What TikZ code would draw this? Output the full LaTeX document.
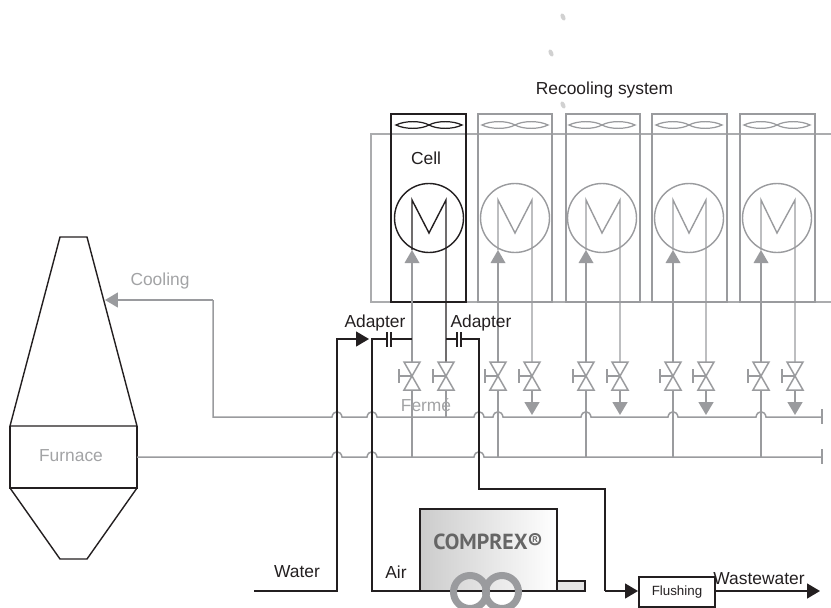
\documentclass[tikz,border=0pt]{standalone}
\usepackage{fontspec}
\setmainfont{Liberation Sans}
\newfontfamily\logofont{PT Sans}
\usepackage{xcolor}
\usetikzlibrary{arrows.meta}
\definecolor{pipegray}{HTML}{9A9B9E}
\definecolor{framegray}{HTML}{ABACAE}
\definecolor{labelgray}{HTML}{A2A3A5}
\definecolor{inkblack}{HTML}{231F20}
\tikzset{
  pipe/.style={line width=0.85pt,draw=pipegray},
  blackpipe/.style={line width=0.8pt,draw=inkblack},
  graytip/.style={-{Triangle[length=0.26cm,width=0.3cm]},pipe},
  blacktip/.style={-{Triangle[length=0.26cm,width=0.3cm]},blackpipe},
  lbl/.style={font=\fontsize{9.9}{12}\selectfont,text=inkblack,inner sep=0pt},
  graylbl/.style={lbl,text=labelgray},
  ringnode/.style={circle,draw=pipegray,line width=4pt,minimum size=0.66cm,inner sep=0pt},
}
\begin{document}
\begin{tikzpicture}[x=0.02cm,y=-0.02cm]
\useasboundingbox (0,0) rectangle (831,608);
\clip (0,0) rectangle (831,608);
% stray dots
\foreach \dx/\dy/\n in {563/17/a,551/53/b,563/105/c}
  \fill[black!18,rotate around={25:(\dx,\dy)}] (\dx,\dy) coordinate (dot\n) ellipse (2.2 and 3.8);
% recooling frame
\draw[framegray,line width=0.7pt] (840,134) -- (371,134) -- (371,302) -- (840,302);
% furnace
\coordinate (topL) at (60,237);
\coordinate (topR) at (87,237);
\coordinate (furnL) at (10,426);
\coordinate (furnR) at (137,426);
\coordinate (furnL2) at (10,488);
\coordinate (furnR2) at (137,488);
\coordinate (botL) at (60,559);
\coordinate (botR) at (87,559);
\draw[blackpipe] (topL) -- (topR) -- (furnR) -- (furnL) -- cycle;
\draw[blackpipe] (furnL) -- (furnL2) -- (furnR2) -- (furnR);
\draw[blackpipe] (furnL2) -- (botL) -- (botR) -- (furnR2);
% headers
\coordinate (coolTip) at (105,300);
\coordinate (coolCorner) at (213,300);
\coordinate (coolLow) at (213,417);
\coordinate (end1) at (822,417);
\coordinate (end2) at (822,457);
\coordinate (furnOut) at (137,457);
\draw[graytip] (coolCorner) -- (coolTip);
\draw[pipe] (coolCorner) -- (coolLow)
  \foreach \h in {337,372,479,498,586,673,761}{ -- (\h-5,417) .. controls (\h-4,410) and (\h+4,410) .. (\h+5,417)} -- (end1);
\draw[pipe] (furnOut)
  \foreach \h in {337,372,479}{ -- (\h-5,457) .. controls (\h-4,450) and (\h+4,450) .. (\h+5,457)} -- (end2);
\draw[pipe] (822,409) -- (822,424);
\draw[pipe] (822,449) -- (822,464);
% cells
\foreach \i/\l/\r/\cx/\cc/\a/\b in {%
  1/391/466/429/inkblack/412/446,
  2/478/552/515/pipegray/498/532,
  3/566/640/602/pipegray/586/620,
  4/652/727/689/pipegray/673/706,
  5/740/815/777/pipegray/761/795}{
  \draw[\cc,line width=0.9pt] (\l,114) rectangle (\r,302);
  \draw[\cc,line width=0.7pt] (\cx,125) .. controls (\cx-8,120.5) and (\cx-24,120.5) .. (\cx-33,125)
     .. controls (\cx-24,129.5) and (\cx-8,129.5) .. (\cx,125)
     .. controls (\cx+8,120.5) and (\cx+24,120.5) .. (\cx+33,125)
     .. controls (\cx+24,129.5) and (\cx+8,129.5) .. (\cx,125);
  \node[circle,draw=\cc,line width=0.8pt,minimum size=1.38cm,inner sep=0pt] (coil\i) at (\cx,218) {};
  \coordinate (inTop\i) at (\a,200);
  \coordinate (inTip\i) at (\a,250);
  \coordinate (outTop\i) at (\b,200);
  \coordinate (mid\i) at (\cx,233);
  \coordinate (inV\i) at (\a,376);
  \coordinate (outV\i) at (\b,376);
  % pipes up to the coil
  \draw[\cc,line width=0.8pt] (inTip\i) -- (inTop\i) -- (mid\i) -- (outTop\i) -- (\b,362);
  \draw[pipe] (\a,362) -- (\a,263);
  \fill[pipegray] (\a,250) -- (\a+7.5,263) -- (\a-7.5,263) -- cycle;
  % lines below the valves
  \draw[pipe] (\a,390) -- (\a,457);
  % valves
  \foreach \v in {\a,\b}{
    \draw[pipe] (\v-8,362) -- (\v+8,362) -- (\v-8,390) -- (\v+8,390) -- cycle;
    \draw[pipe] (\v,376) -- (\v-13,376);
    \draw[pipe] (\v-13,369) -- (\v-13,383);
  }
}
% return lines
\draw[pipe] (outV1) ++(0,14) -- (446,417);
\foreach \b in {532,620,706,795}
  \draw[graytip] (\b,390) -- (\b,415);
% water, air, adapters
\coordinate (waterIn) at (254,591);
\coordinate (waterUp) at (337,591);
\coordinate (waterTop) at (337,339);
\coordinate (waterTip) at (369,339);
\draw[blacktip] (waterIn) -- (waterUp) -- (waterTop) -- (waterTip);
\coordinate (airBox) at (420,591);
\coordinate (airLow) at (372,591);
\coordinate (airTop) at (372,339);
\coordinate (capA) at (387,339);
\coordinate (capB) at (391,339);
\coordinate (capC) at (457,339);
\coordinate (capD) at (461,339);
\draw[blackpipe] (airBox) -- (airLow) -- (airTop) -- (capA);
\draw[blackpipe] (387,332) -- (387,347) (391,332) -- (391,347);
\draw[blackpipe] (capB) -- (412,339);
\draw[blackpipe] (446,339) -- (capC);
\draw[blackpipe] (457,332) -- (457,347) (461,332) -- (461,347);
\coordinate (flushIn) at (638,591);
\draw[blackpipe] (capD) -- (479,339) -- (479,489) -- (605,489) -- (605,591);
\draw[blacktip] (605,591) -- (flushIn);
% comprex
\draw[inkblack,line width=0.8pt,fill=black!10] (557,581) rectangle (585,591);
\draw[inkblack,line width=0.8pt,left color=black!20,right color=white] (420,509) rectangle (557,591);
\node[font=\logofont\bfseries\fontsize{12.4}{14}\selectfont,text=black!60,inner sep=0pt] (comprex) at (488,542) {COMPREX®};
\node[ringnode] (ringA) at (470,592) {};
\node[ringnode] (ringB) at (502,592) {};
% flushing
\node[draw=inkblack,line width=0.8pt,minimum width=1.52cm,minimum height=0.6cm,inner sep=0pt,font=\fontsize{7.6}{9}\selectfont,text=inkblack] (flushing) at (677,592) {Flushing};
\coordinate (wasteTip) at (820,591);
\draw[blacktip] (flushing.east|-wasteTip) -- (wasteTip);
% labels
\node[lbl] (recooling) at (604.5,90) {Recooling system};
\node[lbl] (cell) at (426,158) {Cell};
\node[graylbl] (cooling) at (160,281.5) {Cooling};
\node[graylbl] (furnace) at (71,456) {Furnace};
\node[lbl] (adapterA) at (375,323) {Adapter};
\node[lbl] (adapterB) at (481,323) {Adapter};
\node[graylbl] (ferme) at (426,405) {Fermé};
\node[lbl] (water) at (297,572) {Water};
\node[lbl] (air) at (396,572) {Air};
\node[lbl] (wastewater) at (759,579) {Wastewater};
\end{tikzpicture}
\end{document}
